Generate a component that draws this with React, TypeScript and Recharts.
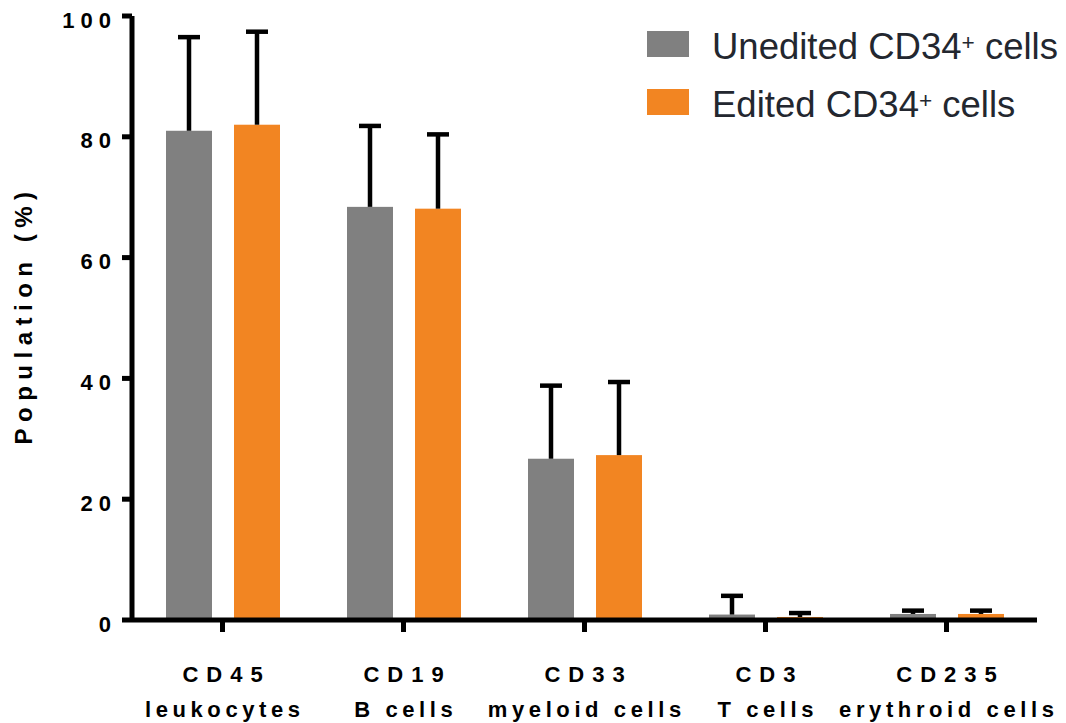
import { Bar, BarChart, XAxis, YAxis } from 'recharts'

// categories and their second-line labels
const categories = ['CD45', 'CD19', 'CD33', 'CD3', 'CD235']
const cellTypes = ['leukocytes', 'B cells', 'myeloid cells', 'T cells', 'erythroid cells']

// population (%) means and upper SD
const unedited = [81.0, 68.4, 26.7, 0.9, 1.0]
const uneditedErr = [15.5, 13.4, 12.1, 3.1, 0.55]
const edited = [82.0, 68.1, 27.3, 0.5, 1.0]
const editedErr = [15.4, 12.3, 12.1, 0.65, 0.55]

const yTicks = [0, 20, 40, 60, 80, 100]

const GRAY = '#808080'
const ORANGE = '#f28522'
const FONT = '"Liberation Sans", Arial, Helvetica, sans-serif'

const data = categories.map((category, i) => ({
  category,
  cellType: cellTypes[i],
  unedited: unedited[i],
  uneditedErr: uneditedErr[i],
  edited: edited[i],
  editedErr: editedErr[i],
}))

// bar + one-sided (upper) error bar, scaled from the bar's own pixel height
function barWithError(errKey: string) {
  return (props: any) => {
    const { x, y, width, height, fill, payload } = props
    const v = payload[props.dataKey] as number
    const err = payload[errKey] as number
    const base = y + height
    const top = base - ((v + err) * height) / v
    const cx = x + width / 2
    return (
      <g>
        <rect x={x} y={y} width={width} height={height} fill={fill} />
        <line x1={cx} x2={cx} y1={y} y2={top} stroke="#000" strokeWidth={4.5} />
        <line x1={cx - 11} x2={cx + 11} y1={top} y2={top} stroke="#000" strokeWidth={4.5} />
      </g>
    )
  }
}

function CategoryTick(props: any) {
  const { x, y, payload } = props
  const row = data.find((d) => d.category === payload.value)
  const common = { fill: '#000', fontFamily: FONT, fontWeight: 700, fontSize: 22, textAnchor: 'middle' as const }
  return (
    <g>
      <text x={x + 4} y={y} dy={48} letterSpacing={8} {...common}>
        {payload.value}
      </text>
      <text x={x + 2.3} y={y} dy={83} letterSpacing={4.6} {...common}>
        {row?.cellType}
      </text>
    </g>
  )
}

function ValueTick(props: any) {
  const { x, y, payload } = props
  return (
    <text
      x={x}
      y={y}
      dy={11.5}
      textAnchor="end"
      fill="#000"
      fontFamily={FONT}
      fontWeight={700}
      fontSize={22}
      letterSpacing={6}
    >
      {payload.value}
    </text>
  )
}

function AxisTitle(props: any) {
  const vb = props.viewBox ?? { y: 16, height: 604 }
  const cx = 32
  const cy = vb.y + vb.height / 2 - 3
  return (
    <text
      x={cx}
      y={cy}
      transform={`rotate(-90, ${cx}, ${cy})`}
      textAnchor="middle"
      fill="#000"
      fontFamily={FONT}
      fontWeight={700}
      fontSize={24}
      letterSpacing={6.5}
    >
      Population (%)
    </text>
  )
}

const legendItems = [
  { label: 'Unedited CD34', color: GRAY },
  { label: 'Edited CD34', color: ORANGE },
]

export default function App() {
  const axisStyle = { stroke: '#000', strokeWidth: 5 }
  return (
    <div style={{ position: 'absolute', left: 0, top: 0, width: 1066, height: 723, background: '#fff' }}>
      <BarChart
        width={1066}
        height={723}
        data={data}
        margin={{ top: 16, right: 29, bottom: 0, left: 0 }}
        barGap={22}
        barSize={46}
      >
        <Bar dataKey="unedited" fill={GRAY} isAnimationActive={false} shape={barWithError('uneditedErr')} />
        <Bar dataKey="edited" fill={ORANGE} isAnimationActive={false} shape={barWithError('editedErr')} />
        <XAxis
          dataKey="category"
          height={103}
          interval={0}
          axisLine={axisStyle}
          tickLine={axisStyle}
          tickSize={12}
          tick={<CategoryTick />}
        />
        <YAxis
          width={132}
          domain={[0, 100]}
          ticks={yTicks}
          interval={0}
          axisLine={axisStyle}
          tickLine={axisStyle}
          tickSize={10}
          tickMargin={5}
          tick={<ValueTick />}
          label={<AxisTitle />}
        />
      </BarChart>
      <div style={{ position: 'absolute', left: 647, top: 15, fontFamily: FONT, color: '#23272f' }}>
        {legendItems.map((item) => (
          <div key={item.label} style={{ display: 'flex', alignItems: 'center', height: 58 }}>
            <div style={{ width: 42, height: 26, background: item.color, marginRight: 23 }} />
            <span style={{ fontSize: 36.5, lineHeight: 1, position: 'relative', top: 3, whiteSpace: 'nowrap' }}>
              {item.label}
              <span style={{ fontSize: '0.62em', verticalAlign: 9 }}>+</span> cells
            </span>
          </div>
        ))}
      </div>
    </div>
  )
}
